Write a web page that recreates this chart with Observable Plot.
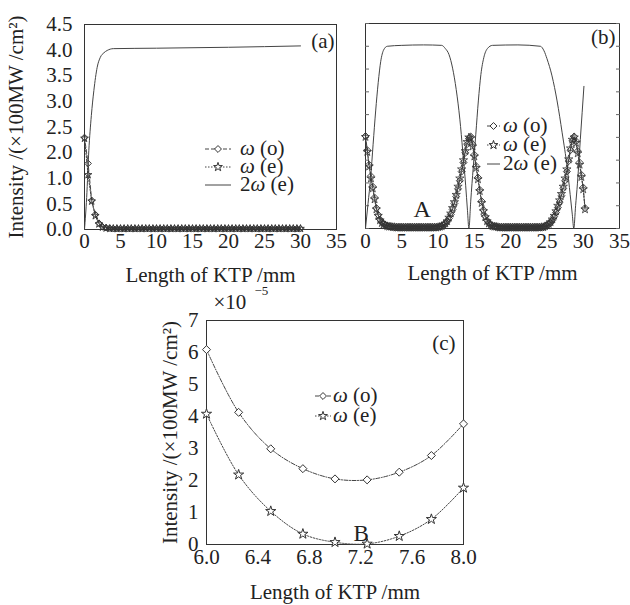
<!DOCTYPE html>
<html><head><meta charset="utf-8">
<script src="https://cdn.jsdelivr.net/npm/d3@7"></script>
<script src="https://cdn.jsdelivr.net/npm/@observablehq/plot@0.6"></script>
<style>
html,body{margin:0;padding:0;background:#fff;}
#root{position:relative;width:630px;height:605px;overflow:hidden;font-family:"Liberation Serif","Times New Roman",serif;color:#222;}
#root svg text{font-family:"Liberation Serif","Times New Roman",serif;}
.lg{position:absolute;font-size:21px;white-space:nowrap;display:flex;align-items:center;height:17px;line-height:17px;}
.lg svg{display:block;flex:none;}
</style></head><body><div id="root"></div>
<script>
// ---------- data ----------
const xTicksAB = [0, 5, 10, 15, 20, 25, 30, 35];
const yTickLabelsA = ["0.0", "0.5", "1.0", "2.0", "2.5", "3.0", "3.5", "4.0", "4.5"];
const yTicksB = [0, 0.5, 1, 1.5, 2, 2.5, 3, 3.5, 4, 4.5];

// panel (a)
const xA = [0,0.5,1,1.5,2,2.5,3,3.5,4,4.5,5,5.5,6,6.5,7,7.5,8,8.5,9,9.5,10,10.5,11,11.5,12,12.5,13,13.5,14,14.5,15,15.5,16,16.5,17,17.5,18,18.5,19,19.5,20,20.5,21,21.5,22,22.5,23,23.5,24,24.5,25,25.5,26,26.5,27,27.5,28,28.5,29,29.5,30];
const aOmegaO = [2.02,1.45,0.64,0.33,0.14,0.06,0.04,0.03,0.02,0.02,0.02,0.02,0.02,0.02,0.02,0.02,0.02,0.02,0.02,0.02,0.02,0.02,0.02,0.02,0.02,0.02,0.02,0.02,0.02,0.02,0.02,0.02,0.02,0.02,0.02,0.02,0.02,0.02,0.02,0.02,0.02,0.02,0.02,0.02,0.02,0.02,0.02,0.02,0.02,0.02,0.02,0.02,0.02,0.02,0.02,0.02,0.02,0.02,0.02,0.02,0.02];
const aOmegaE = [2.00,1.20,0.62,0.30,0.12,0.05,0.03,0.02,0.02,0.02,0.02,0.02,0.02,0.02,0.02,0.02,0.02,0.02,0.02,0.02,0.02,0.02,0.02,0.02,0.02,0.02,0.02,0.02,0.02,0.02,0.02,0.02,0.02,0.02,0.02,0.02,0.02,0.02,0.02,0.02,0.02,0.02,0.02,0.02,0.02,0.02,0.02,0.02,0.02,0.02,0.02,0.02,0.02,0.02,0.02,0.02,0.02,0.02,0.02,0.02,0.02];
const a2wX = [0,0.3,0.6,0.95,1.3,1.76,2.2,2.7,3.15,4,10,20,30];
const a2wY = [0,0.7,1.73,2.5,3.05,3.56,3.78,3.88,3.93,3.97,3.98,4.0,4.03];

// panel (b)
const xB = [0,0.25,0.5,0.75,1,1.25,1.5,1.75,2,2.25,2.5,2.75,3,3.25,3.5,3.75,
  4,4.25,4.5,4.75,5,5.25,5.5,5.75,6,6.25,6.5,6.75,7,7.25,7.5,7.75,8,8.25,8.5,8.75,9,9.25,9.5,9.75,10,
  10.25,10.5,10.75,11,11.25,11.5,11.75,12,12.25,12.5,12.75,13,13.25,13.5,13.75,14,14.25,14.5,14.75,15,15.25,15.5,15.75,16,16.25,16.5,16.75,17,17.25,17.5,17.75,18,
  18.25,18.5,18.75,19,19.25,19.5,19.75,20,20.25,20.5,20.75,21,21.25,21.5,21.75,22,22.25,22.5,22.75,23,23.25,23.5,23.75,24,24.25,24.5,
  24.75,25,25.25,25.5,25.75,26,26.25,26.5,26.75,27,27.25,27.5,27.75,28,28.25,28.5,28.75,29,29.25,29.5,29.75,30,30.25];
const bOmegaO = [2.03,1.72,1.40,1.15,0.92,0.68,0.45,0.30,0.20,0.14,0.10,0.08,0.06,0.05,0.04,0.04,
  0.03,0.03,0.03,0.03,0.03,0.03,0.03,0.03,0.03,0.03,0.03,0.03,0.03,0.03,0.03,0.03,0.03,0.03,0.03,0.03,0.03,0.03,0.03,0.03,0.03,
  0.04,0.05,0.07,0.10,0.15,0.22,0.31,0.42,0.55,0.70,0.87,1.05,1.25,1.45,1.66,1.85,1.97,2.02,1.85,1.62,1.37,1.12,0.85,0.60,0.41,0.27,0.18,0.12,0.08,0.06,0.05,0.04,
  0.03,0.03,0.03,0.03,0.03,0.03,0.03,0.03,0.03,0.03,0.03,0.03,0.03,0.03,0.03,0.03,0.03,0.03,0.03,0.03,0.03,0.03,0.03,0.03,0.03,0.03,
  0.04,0.06,0.09,0.12,0.18,0.26,0.35,0.46,0.58,0.72,0.88,1.05,1.25,1.48,1.72,1.92,2.02,1.92,1.70,1.45,1.18,0.90,0.45];
const bOmegaE = [2.01,1.68,1.36,1.10,0.88,0.64,0.42,0.28,0.18,0.12,0.09,0.07,0.05,0.04,0.04,0.03,
  0.03,0.02,0.02,0.02,0.02,0.02,0.02,0.02,0.02,0.02,0.02,0.02,0.02,0.02,0.02,0.02,0.02,0.02,0.02,0.02,0.02,0.02,0.02,0.02,0.03,
  0.04,0.05,0.08,0.11,0.16,0.24,0.33,0.45,0.58,0.74,0.92,1.10,1.30,1.50,1.70,1.90,2.00,1.98,1.80,1.58,1.33,1.08,0.82,0.56,0.38,0.25,0.16,0.11,0.07,0.05,0.04,0.04,
  0.03,0.02,0.02,0.02,0.02,0.02,0.02,0.02,0.02,0.02,0.02,0.02,0.02,0.02,0.02,0.02,0.02,0.02,0.02,0.02,0.02,0.02,0.02,0.02,0.03,0.03,
  0.05,0.07,0.10,0.14,0.20,0.28,0.38,0.50,0.62,0.76,0.92,1.10,1.30,1.52,1.76,1.95,2.00,1.88,1.65,1.40,1.13,0.86,0.42];
const b2wX = [0,0.35,0.7,1.05,1.4,1.75,2.1,2.5,3.0,5,8,10.5,11,11.5,12,12.5,13,13.4,13.8,14.05,14.25,14.5,14.85,15.2,15.55,15.9,16.3,16.8,17.5,21,24.1,24.6,25,25.7,26.4,27.1,27.8,28.2,28.5,28.7,28.95,29.2,29.6,30.1];
const b2wY = [0,0.55,1.1,1.85,2.58,3.2,3.67,3.92,4.0,4.02,4.03,4.02,3.95,3.82,3.52,3.05,2.4,1.7,0.95,0.4,0.0,0.6,1.35,2.07,2.8,3.38,3.75,3.95,4.02,4.03,4.0,3.9,3.73,3.35,2.8,2.1,1.33,0.75,0.3,0.0,0.5,0.98,1.95,3.12];

// panel (c)
const xC = [6.0,6.25,6.5,6.75,7.0,7.25,7.5,7.75,8.0];
const cOmegaO = [6.09,4.13,2.99,2.37,2.05,2.02,2.26,2.78,3.77];
const cOmegaE = [4.08,2.18,1.04,0.33,0.07,0.02,0.26,0.79,1.77];
const xTicksC = [6.0,6.4,6.8,7.2,7.6,8.0];
const yTicksC = [0,1,2,3,4,5,6,7];

const xTitle = "Length of KTP /mm";
const yTitle = "Intensity /(×100MW /cm²)";

// ---------- helpers ----------
const ink = "#333";
const lineInk = "#444";
const serif = '"Liberation Serif","Times New Roman",serif';
const baseStyle = {fontFamily: serif, fontSize: "21px", background: "transparent", overflow: "visible", maxWidth: "none", color: "#222"};
const diamond = {draw(ctx, size) { const r = Math.sqrt(size / 2); ctx.moveTo(0, -r); ctx.lineTo(r, 0); ctx.lineTo(0, r); ctx.lineTo(-r, 0); ctx.closePath(); }};
const star = d3.symbolStar;
const rows = (xs, ys) => xs.map((x, i) => ({x, y: ys[i]}));

const root = document.getElementById("root");
function place(el, left, top) {
  el.style.position = "absolute"; el.style.left = left + "px"; el.style.top = top + "px";
  root.appendChild(el);
}

// ---------- panel (a) ----------
const yTickPosA = yTickLabelsA.map((_, i) => i * 4.5 / (yTickLabelsA.length - 1));
const plotA = Plot.plot({
  width: 340, height: 300,
  marginLeft: 84, marginRight: 4, marginTop: 24, marginBottom: 71,
  style: baseStyle,
  x: {domain: [0, 35], ticks: xTicksAB, tickSize: 0, tickPadding: 4, label: xTitle, labelAnchor: "center", labelOffset: 52, labelArrow: "none"},
  y: {domain: [0, 4.5], ticks: yTickPosA, tickFormat: d => yTickLabelsA[yTickPosA.indexOf(d)], tickSize: 0, tickPadding: 12, label: yTitle, labelAnchor: "center", labelOffset: 76, labelArrow: "none"},
  marks: [
    Plot.frame({stroke: ink}),
    Plot.line(rows(a2wX, a2wY), {x: "x", y: "y", stroke: lineInk, strokeWidth: 1, curve: "monotone-x"}),
    Plot.line(rows(xA, aOmegaE), {x: "x", y: "y", stroke: lineInk, strokeWidth: 1, strokeDasharray: "1.5,1.5"}),
    Plot.line(rows(xA, aOmegaO), {x: "x", y: "y", stroke: lineInk, strokeWidth: 1, strokeDasharray: "4,2"}),
    Plot.dot(rows(xA, aOmegaE), {x: "x", y: "y", symbol: star, r: 2.4, fill: "none", stroke: ink, strokeWidth: 0.9}),
    Plot.dot(rows(xA, aOmegaO), {x: "x", y: "y", symbol: diamond, r: 2.6, fill: "none", stroke: ink, strokeWidth: 1}),
    Plot.text(["(a)"], {frameAnchor: "top-right", dx: -2, dy: 9, textAnchor: "end", fill: "#222"})
  ]
});
place(plotA, 0, 0);

// ---------- panel (b) ----------
const plotB = Plot.plot({
  width: 290, height: 300,
  marginLeft: 25, marginRight: 11, marginTop: 23, marginBottom: 72,
  style: baseStyle,
  x: {domain: [0, 35], ticks: xTicksAB, tickSize: 0, tickPadding: 5, label: xTitle, labelAnchor: "center", labelOffset: 51, labelArrow: "none"},
  y: {domain: [0, 4.5]},
  marks: [
    Plot.frame({stroke: ink}),
    Plot.axisY(yTicksB, {anchor: "left", tickSize: -4, fill: "none", label: null, stroke: "#666"}),
    Plot.axisY(yTicksB, {anchor: "right", tickSize: -4, fill: "none", label: null, stroke: "#666"}),
    Plot.line(rows(b2wX, b2wY), {x: "x", y: "y", stroke: lineInk, strokeWidth: 1, curve: "monotone-x"}),
    Plot.line(rows(xB, bOmegaE), {x: "x", y: "y", stroke: lineInk, strokeWidth: 1, strokeDasharray: "1.5,1.5"}),
    Plot.line(rows(xB, bOmegaO), {x: "x", y: "y", stroke: lineInk, strokeWidth: 1, strokeDasharray: "4,2"}),
    Plot.dot(rows(xB, bOmegaE), {x: "x", y: "y", symbol: star, r: 2.6, fill: "none", stroke: ink, strokeWidth: 0.8}),
    Plot.dot(rows(xB, bOmegaO), {x: "x", y: "y", symbol: diamond, r: 2.8, fill: "none", stroke: ink, strokeWidth: 0.9}),
    Plot.text(["(b)"], {frameAnchor: "top-right", dx: -4, dy: 6, textAnchor: "end", fill: "#222"}),
    Plot.text(["A"], {frameAnchor: "bottom-left", dx: 48, dy: -12, fontSize: 24, fill: "#222"})
  ]
});
place(plotB, 340, 0);

// ---------- panel (c) ----------
const plotC = Plot.plot({
  width: 350, height: 325,
  marginLeft: 76, marginRight: 17, marginTop: 40, marginBottom: 61,
  style: baseStyle,
  x: {domain: [6, 8], ticks: xTicksC, tickFormat: d3.format(".1f"), tickSize: 0, tickPadding: 5, label: xTitle, labelAnchor: "center", labelOffset: 54, labelArrow: "none"},
  y: {domain: [0, 7], ticks: yTicksC, tickFormat: d => String(d), tickSize: 0, tickPadding: 8, label: yTitle, labelAnchor: "center", labelOffset: 44, labelArrow: "none"},
  marks: [
    Plot.frame({stroke: ink}),
    Plot.line(rows(xC, cOmegaO), {x: "x", y: "y", stroke: lineInk, strokeWidth: 1, strokeDasharray: "4,1.5,1,1.5", curve: "catmull-rom"}),
    Plot.line(rows(xC, cOmegaE), {x: "x", y: "y", stroke: lineInk, strokeWidth: 1, strokeDasharray: "1.5,1.5", curve: "catmull-rom"}),
    Plot.dot(rows(xC, cOmegaO), {x: "x", y: "y", symbol: diamond, r: 3.2, fill: "white", stroke: ink, strokeWidth: 1}),
    Plot.dot(rows(xC, cOmegaE), {x: "x", y: "y", symbol: star, r: 3.2, fill: "white", stroke: ink, strokeWidth: 1}),
    Plot.text(["(c)"], {frameAnchor: "top-right", dx: -8, dy: 15, textAnchor: "end", fill: "#222"}),
    Plot.text(["B"], {frameAnchor: "bottom-left", dx: 147, dy: -4, fontSize: 23, fill: "#222"}),
    Plot.text(["×10"], {frameAnchor: "top-left", dx: 7, dy: -26, textAnchor: "start", fill: "#222"}),
    Plot.text(["−5"], {frameAnchor: "top-left", dx: 48, dy: -35, textAnchor: "start", fontSize: 13, fill: "#222"})
  ]
});
place(plotC, 130, 280);

// ---------- legends ----------
function sample(width, dash, symbol) {
  const svg = d3.create("svg").attr("width", width).attr("height", 17);
  svg.append("line").attr("x1", 0).attr("x2", width).attr("y1", 9).attr("y2", 9)
    .attr("stroke", lineInk).attr("stroke-width", 1).attr("stroke-dasharray", dash || null);
  if (symbol) svg.append("path").attr("d", d3.symbol(symbol, 24)()).attr("transform", `translate(${width / 2},9)`)
    .attr("fill", "white").attr("stroke", ink);
  return svg.node();
}
function legend(left, centers, sw, gap, items) {
  items.forEach((it, i) => {
    const row = document.createElement("div");
    row.className = "lg";
    row.style.left = left + "px"; row.style.top = (centers[i] - 10) + "px";
    row.appendChild(sample(sw, it.dash, it.symbol));
    const span = document.createElement("span");
    span.style.marginLeft = gap + "px";
    span.innerHTML = it.html;
    row.appendChild(span);
    root.appendChild(row);
  });
}
const lgO = {html: "<i>ω</i> (o)", dash: "4,2", symbol: diamond};
const lgE = {html: "<i>ω</i> (e)", dash: "1.5,1.5", symbol: star};
const lg2 = {html: "2<i>ω</i> (e)", dash: null, symbol: null};
legend(205, [150, 168, 186], 26, 9, [lgO, lgE, lg2]);
legend(487, [127, 146, 165], 13, 3, [lgO, lgE, lg2]);
legend(315, [397, 417], 16, 2, [lgO, lgE]);
</script></body></html>
